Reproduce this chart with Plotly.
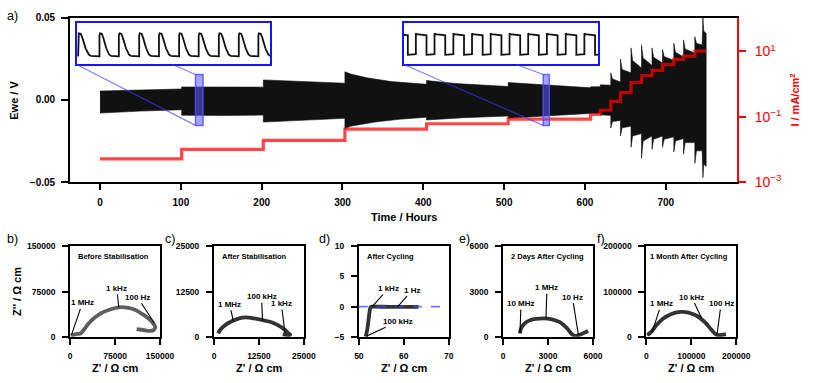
import plotly.graph_objects as go

W, H = 817, 383
FONT = "Liberation Sans, Arial, sans-serif"

# ---------------- data: panel a (voltage envelope, current steps) ----------------
ENV_UPPER_T = [0, 50, 101, 101, 150, 202, 202, 250, 303, 303, 310, 330, 360, 404, 404, 440, 475, 505, 505, 550,
               607, 607, 619, 619, 632, 632, 634, 644, 644, 646, 657, 657, 659, 670, 670, 672, 683, 683, 685,
               696, 696, 698, 710, 710, 712, 722, 722, 724, 736, 736, 738, 745, 746, 747, 750]
ENV_UPPER_V = [0.0054, 0.0062, 0.0067, 0.0079, 0.0079, 0.0078, 0.0122, 0.0112, 0.0102, 0.0172, 0.0158, 0.0135,
               0.0112, 0.0095, 0.0118, 0.0100, 0.0088, 0.0082, 0.0106, 0.0090,
               0.0074, 0.0080, 0.0080, 0.0092, 0.0090, 0.0165, 0.0128, 0.0110, 0.0249, 0.0185, 0.0165, 0.0317,
               0.0240, 0.0195, 0.0336, 0.0255, 0.0210, 0.0317, 0.0260,
               0.0225, 0.0307, 0.0265, 0.0240, 0.0346, 0.0290, 0.0262, 0.0366, 0.0310, 0.0285, 0.0385, 0.0345,
               0.0335, 0.0500, 0.0420, 0.0405]
ENV_LOWER_T = [0, 50, 101, 101, 150, 202, 202, 250, 303, 303, 310, 340, 370, 404, 404, 450, 505, 505, 550,
               607, 619, 619, 632, 632, 634, 644, 644, 646, 657, 657, 659, 670, 670, 672, 683, 683, 685,
               696, 696, 698, 710, 710, 712, 722, 722, 724, 736, 736, 738, 745, 746, 747, 750]
ENV_LOWER_V = [-0.0080, -0.0068, -0.0060, -0.0093, -0.0095, -0.0092, -0.0135, -0.0122, -0.0112, -0.0176, -0.0160,
               -0.0135, -0.0118, -0.0105, -0.0122, -0.0108, -0.0098, -0.0112, -0.0098,
               -0.0082, -0.0082, -0.0090, -0.0095, -0.0171, -0.0132, -0.0125, -0.0219, -0.0170, -0.0160, -0.0288,
               -0.0220, -0.0205, -0.0356, -0.0250, -0.0220, -0.0300, -0.0240,
               -0.0220, -0.0288, -0.0240, -0.0225, -0.0317, -0.0250, -0.0235, -0.0330, -0.0260, -0.0260, -0.0386,
               -0.0310, -0.0310, -0.0473, -0.0390, -0.0405]

CURRENT_T = [0, 101, 202, 303, 404, 505, 607, 619, 632, 644, 657, 670, 683, 696, 710, 722, 736, 750]
CURRENT_I = [0.0051, 0.010, 0.019, 0.042, 0.061, 0.085, 0.117, 0.158, 0.295, 0.55, 1.12, 1.82, 2.63, 3.98,
             5.75, 7.24, 10.2, 10.2]

TIME_TICKS = [0, 100, 200, 300, 400, 500, 600, 700]
EWE_TICKS = [-0.05, 0.0, 0.05]
EWE_TICK_TEXT = ["\u22120.05", "0.00", "0.05"]
CURRENT_TICKS = [0.001, 0.1, 10]
CURRENT_TICK_TEXT = ["10<sup>\u22123</sup>", "10<sup>\u22121</sup>", "10<sup>1</sup>"]

# zoom windows shown in insets (hours, volts)
ZOOM_WINDOWS_T = [(118.1, 127.4), (548.3, 555.9)]
ZOOM_WINDOW_V = (-0.0155, 0.0155)

# inset waveforms: rise positions (fraction of inset width) and one-period shape (phase, level)
INSET1_RISES = [0.008, 0.118, 0.218, 0.323, 0.425, 0.529, 0.630, 0.734, 0.837, 0.938]
INSET1_PHASE = [0.0, 0.0, 0.03, 0.12, 0.20, 0.35, 0.50, 0.60, 1.0]
INSET1_LEVEL = [0.0, 0.90, 1.0, 0.98, 0.80, 0.35, 0.08, 0.02, 0.0]
INSET2_RISES = [-0.034, 0.062, 0.158, 0.255, 0.351, 0.447, 0.544, 0.640, 0.736, 0.833, 0.929]
INSET2_PHASE = [0.0, 0.0, 0.04, 0.57, 0.57, 1.0]
INSET2_LEVEL = [0.03, 1.0, 0.96, 0.90, 0.0, 0.03]

# ---------------- data: Nyquist panels b-f ----------------
NYQ_B_X = [1620, 5420, 11900, 17300, 21700, 29800, 40600, 54200, 67700, 81200, 94800, 108300, 121800, 132700,
           139700, 141900, 139700, 132700, 121800, 111000]
NYQ_B_Y = [1060, 3190, 4790, 5320, 10100, 20700, 31400, 40400, 45700, 48900, 48400, 44700, 36700, 28700,
           20700, 17000, 11200, 9600, 11200, 12800]
NYQ_C_X = [1170, 1620, 2970, 4770, 7000, 8810, 10600, 13300, 16000, 18700, 20050, 20770, 21200, 20950, 19150]
NYQ_C_Y = [890, 1790, 3125, 4200, 5090, 5360, 5180, 4640, 4020, 2680, 1610, 890, 625, 450, 710]
NYQ_D_X = [51.52, 51.88, 52.17, 52.39, 52.60, 52.97, 55.0, 58.0, 61.0, 63.26]
NYQ_D_Y = [-5.0, -3.72, -2.13, -0.80, -0.10, 0.0, -0.02, -0.03, -0.04, -0.05]
NYQ_E_X = [1126, 1190, 1408, 1733, 2166, 2708, 3249, 3791, 4224, 4549, 4765, 4982, 5307, 5675]
NYQ_E_Y = [214, 536, 857, 1071, 1179, 1221, 1157, 964, 600, 214, 64, 86, 214, 386]
NYQ_F_X = [1440, 10830, 21660, 36100, 54150, 75800, 93860, 111900, 130000, 144400, 155200, 162450, 176900]
NYQ_F_Y = [3570, 10710, 25000, 39300, 50000, 55000, 53570, 46430, 32140, 15700, 5000, 3570, 5700]

PANEL_TITLES = ["Before Stabilisation", "After Stabilisation", "After Cycling", "2 Days After Cycling",
                "1 Month After Cycling"]
PANEL_LETTERS = ["b)", "c)", "d)", "e)", "f)"]
PANEL_X_RANGES = [(0, 150000), (0, 25000), (50, 70), (0, 6000), (0, 200000)]
PANEL_Y_RANGES = [(0, 150000), (0, 25000), (-5, 10), (0, 6000), (0, 200000)]
PANEL_X_TICKS = [[0, 75000, 150000], [0, 12500, 25000], [50, 60, 70], [0, 3000, 6000], [0, 100000, 200000]]
PANEL_Y_TICKS = [[0, 75000, 150000], [0, 12500, 25000], [-5, 0, 5, 10], [0, 3000, 6000], [0, 100000, 200000]]

# frequency labels: text, tip x, tip y (data)
FREQ_LABELS = [
    [("1 MHz", 2200, 3200), ("1 kHz", 81200, 48900), ("100 Hz", 140800, 22300)],
    [("1 MHz", 5400, 4290), ("100 kHz", 13490, 4460), ("1 kHz", 19800, 890)],
    [("1 kHz", 52.97, 0.0), ("1 Hz", 58.55, -0.1), ("100 kHz", 51.67, -4.9)],
    [("10 MHz", 1126, 279), ("1 MHz", 2859, 1200), ("10 Hz", 5025, 107)],
    [("1 MHz", 13000, 10700), ("10 kHz", 122700, 41400), ("100 Hz", 157400, 7100)],
]
# label text offsets in pixels (layout only)
FREQ_OFFSETS = [
    [(11, -32), (-2, -19), (-17, -26)],
    [(-4, -17), (-1, -24), (-4, -30)],
    [(16, -18), (15, -17), (32, -15)],
    [(1, -29), (1, -31), (-6, -38)],
    [(9, -28), (-10, -21), (4, -30)],
]

# ---------------- layout geometry (pixels) ----------------
MAIN_L, MAIN_R, MAIN_T, MAIN_B = 66.7, 749.3, 12.3, 182.7
MAIN_XR = (-37, 788)
INSET_BOXES = [(73.3, 271.7, 17.3, 60.7), (408.3, 607.3, 17.3, 60.7)]
INSET_WAVE_FRAC = [(0.194, 0.746), (0.23, 0.747)]
PANEL_LEFTS = [66.7, 214.0, 362.3, 510.0, 656.7]
PANEL_W = 92.0
PANEL_T, PANEL_B = 249.5, 343.3


def fx(px):
    return px / W


def fy(py):
    return 1 - py / H


def data_to_px(t, v):
    px = MAIN_L + (t - MAIN_XR[0]) / (MAIN_XR[1] - MAIN_XR[0]) * (MAIN_R - MAIN_L)
    py = MAIN_B - (v + 0.05) / 0.1 * (MAIN_B - MAIN_T)
    return px, py


def build_wave(rises, phase, level):
    gaps = [b - a for a, b in zip(rises[:-1], rises[1:])]
    mean_gap = sum(gaps) / len(gaps)
    xs, ys = [], []
    for i, r in enumerate(rises):
        p = gaps[i] if i < len(gaps) else mean_gap
        for ph, lv in zip(phase, level):
            xs.append(r + ph * p)
            ys.append(lv)
    return xs, ys


fig = go.Figure()

# black voltage band
band_x = ENV_UPPER_T + ENV_LOWER_T[::-1]
band_y = ENV_UPPER_V + ENV_LOWER_V[::-1]
fig.add_trace(go.Scatter(x=band_x, y=band_y, mode="lines", fill="toself", fillcolor="#111111",
                         line=dict(color="#111111", width=0.6), xaxis="x", yaxis="y",
                         hoverinfo="skip", showlegend=False))
# red current steps
fig.add_trace(go.Scatter(x=CURRENT_T, y=CURRENT_I, mode="lines",
                         line=dict(color="rgba(255,0,0,0.72)", width=3.2, shape="hv"),
                         xaxis="x", yaxis="y2", hoverinfo="skip", showlegend=False))

# inset waveforms
for k, (rises, ph, lv) in enumerate([(INSET1_RISES, INSET1_PHASE, INSET1_LEVEL),
                                     (INSET2_RISES, INSET2_PHASE, INSET2_LEVEL)]):
    wx, wy = build_wave(rises, ph, lv)
    ax_id = 3 + k
    fig.add_trace(go.Scatter(x=wx, y=wy, mode="lines", line=dict(color="#111111", width=1.8),
                             xaxis=f"x{ax_id}", yaxis=f"y{ax_id}", hoverinfo="skip", showlegend=False))

# Nyquist curves
nyq = [(NYQ_B_X, NYQ_B_Y, "#5e5e5e"), (NYQ_C_X, NYQ_C_Y, "#333333"), (NYQ_D_X, NYQ_D_Y, "#333333"),
       (NYQ_E_X, NYQ_E_Y, "#333333"), (NYQ_F_X, NYQ_F_Y, "#333333")]
for i, (xs, ys, col) in enumerate(nyq):
    n = 5 + i
    fig.add_trace(go.Scatter(x=xs, y=ys, mode="lines", line=dict(color=col, width=3.8, shape="spline"),
                             xaxis=f"x{n}", yaxis=f"y{n}", hoverinfo="skip", showlegend=False))

tick_bold10 = dict(family=FONT, size=10, color="black", weight="bold")
layout = dict(
    width=W, height=H, margin=dict(l=0, r=0, t=0, b=0), autosize=False,
    paper_bgcolor="white", plot_bgcolor="white", showlegend=False,
    font=dict(family=FONT, color="black"),
    xaxis=dict(domain=[fx(MAIN_L), fx(MAIN_R)], range=list(MAIN_XR), tickvals=TIME_TICKS,
               ticks="outside", ticklen=6, tickwidth=1.5, tickcolor="black", showline=True, linewidth=2,
               linecolor="black", mirror=True, showgrid=False, zeroline=False, tickfont=tick_bold10,
               anchor="y", ticklabelstandoff=4),
    yaxis=dict(domain=[fy(MAIN_B), fy(MAIN_T)], range=[-0.05, 0.05], tickvals=EWE_TICKS,
               ticktext=EWE_TICK_TEXT, ticks="outside", ticklen=7, tickwidth=1.5, tickcolor="black",
               showline=True, linewidth=2, linecolor="black", showgrid=False, zeroline=False,
               tickfont=tick_bold10, anchor="x", ticklabelstandoff=4),
    yaxis2=dict(overlaying="y", side="right", type="log", range=[-3, 2.03], tickvals=CURRENT_TICKS,
                ticktext=CURRENT_TICK_TEXT, ticks="outside", ticklen=7, tickwidth=1.5, tickcolor="red",
                showline=True, linewidth=2, linecolor="red", showgrid=False, zeroline=False,
                tickfont=dict(family=FONT, size=14, color="red"), anchor="x", ticklabelstandoff=6),
)

for k, (l, r, t, b) in enumerate(INSET_BOXES):
    n = 3 + k
    lo, hi = INSET_WAVE_FRAC[k]
    span = 1.0 / (hi - lo)
    y0 = -lo * span
    layout[f"xaxis{n}"] = dict(domain=[fx(l), fx(r)], range=[0, 1], showline=True, mirror=True, linewidth=2,
                               linecolor="#1414ff", showticklabels=False, ticks="", showgrid=False,
                               zeroline=False, anchor=f"y{n}")
    layout[f"yaxis{n}"] = dict(domain=[fy(b), fy(t)], range=[y0, y0 + span], showline=True, mirror=True,
                               linewidth=2, linecolor="#1414ff", showticklabels=False, ticks="",
                               showgrid=False, zeroline=False, anchor=f"x{n}")

tick_bold8 = dict(family=FONT, size=8.5, color="black", weight="bold")


def fmt_tick(v):
    return ("\u2212" + str(abs(v))) if v < 0 else str(v)


for i in range(5):
    n = 5 + i
    l = PANEL_LEFTS[i]
    layout[f"xaxis{n}"] = dict(domain=[fx(l), fx(l + PANEL_W)], range=list(PANEL_X_RANGES[i]),
                               tickvals=PANEL_X_TICKS[i], ticktext=[fmt_tick(v) for v in PANEL_X_TICKS[i]],
                               ticks="outside", ticklen=6, tickwidth=1.5, tickcolor="black", showline=True,
                               linewidth=2, linecolor="black", mirror=True, showgrid=False, zeroline=False,
                               tickfont=tick_bold8, anchor=f"y{n}", ticklabelstandoff=4)
    layout[f"yaxis{n}"] = dict(domain=[fy(PANEL_B), fy(PANEL_T)], range=list(PANEL_Y_RANGES[i]),
                               tickvals=PANEL_Y_TICKS[i], ticktext=[fmt_tick(v) for v in PANEL_Y_TICKS[i]],
                               ticks="outside", ticklen=6, tickwidth=1.5, tickcolor="black", showline=True,
                               linewidth=2, linecolor="black", mirror=True, showgrid=False, zeroline=False,
                               tickfont=tick_bold8, anchor=f"x{n}", ticklabelstandoff=5)

fig.update_layout(**layout)

# ---------------- shapes ----------------
shapes = []
# dashed zero line in panel d
shapes.append(dict(type="line", xref="x7 domain", x0=0, x1=1, yref="y7", y0=0, y1=0,
                   line=dict(color="rgba(70,70,255,0.75)", width=1.8, dash="dash")))
for k, (t0, t1) in enumerate(ZOOM_WINDOWS_T):
    shapes.append(dict(type="rect", xref="x", yref="y", x0=t0, x1=t1, y0=ZOOM_WINDOW_V[0], y1=ZOOM_WINDOW_V[1],
                       fillcolor="rgba(90,90,255,0.55)", line=dict(color="rgba(80,80,255,0.85)", width=1.5)))
    # connector lines from inset's left corners to window's left corners, clipped at inset bottom
    l, r, t, b = INSET_BOXES[k]
    rx_top, ry_top = data_to_px(t0, ZOOM_WINDOW_V[1])
    rx_bot, ry_bot = data_to_px(t0, ZOOM_WINDOW_V[0])
    for (cx, cy), (ex, ey) in [((l, t), (rx_top, ry_top)), ((l, b), (rx_bot, ry_bot))]:
        if cy < b:
            frac = (b - cy) / (ey - cy)
            cx, cy = cx + frac * (ex - cx), b
        shapes.append(dict(type="line", xref="paper", yref="paper", x0=fx(cx), y0=fy(cy), x1=fx(ex),
                           y1=fy(ey), line=dict(color="rgba(60,60,255,0.65)", width=1.2)))
fig.update_layout(shapes=shapes)

# ---------------- annotations ----------------
ann = []


def txt(x, y, s, size=11, bold=True, color="black", angle=0, xanchor="center"):
    ann.append(dict(x=fx(x), y=fy(y), xref="paper", yref="paper", text=s, showarrow=False,
                    textangle=angle, xanchor=xanchor, yanchor="middle",
                    font=dict(family=FONT, size=size, color=color, weight="bold" if bold else "normal")))


txt(9, 97.5, "Ewe / V", angle=-90)
txt(408, 219, "Time / Hours")
txt(809, 98, "I / mA/cm<sup>2</sup>", color="red", angle=-90)
txt(8, 10, "a)", size=12.5, bold=False)
txt(12, 296, "Z'' / \u03a9 cm", angle=-90)
LETTER_X = [7.5, 169, 327, 470, 610]
for i in range(5):
    l = PANEL_LEFTS[i]
    txt(l + PANEL_W / 2, 376, "Z' / \u03a9 cm")
    txt(LETTER_X[i], 242, PANEL_LETTERS[i], size=12.5, bold=False)
    inset_x = 1.5 if i == 4 else 6
    txt(l + inset_x, 259.5, PANEL_TITLES[i], size=7.5, xanchor="left")
    n = 5 + i
    for (label, tx, ty), (dx, dy) in zip(FREQ_LABELS[i], FREQ_OFFSETS[i]):
        ann.append(dict(x=tx, y=ty, xref=f"x{n}", yref=f"y{n}", text=label, showarrow=True, arrowhead=0,
                        arrowwidth=1.1, arrowcolor="black", ax=dx, ay=dy, standoff=0, startstandoff=0,
                        font=dict(family=FONT, size=8, color="black", weight="bold")))
fig.update_layout(annotations=ann)

fig.write_html("out.html", config={"responsive": False, "displayModeBar": False},
               post_script="document.body.style.margin='0px';document.body.style.padding='0px';")
